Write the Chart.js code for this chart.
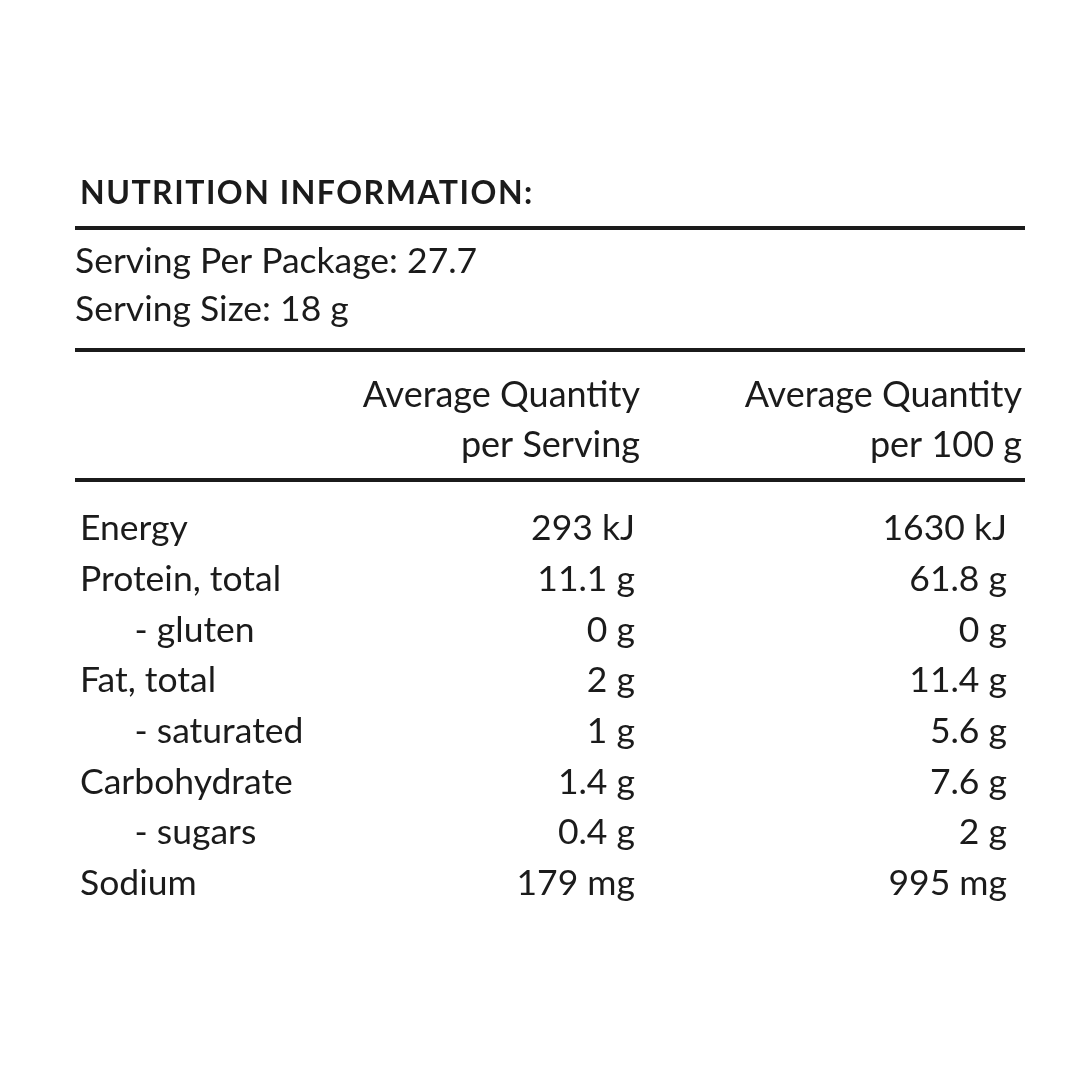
<!DOCTYPE html>
<html>
<head>
<meta charset="utf-8">
<script src="https://cdn.jsdelivr.net/npm/chart.js@4.4.1/dist/chart.umd.min.js"></script>
<style>
  html, body { margin: 0; padding: 0; background: #ffffff; }
  #wrap { width: 1080px; height: 1080px; position: relative; }
</style>
</head>
<body>
<div id="wrap"><canvas id="c" width="1080" height="1080"></canvas></div>
<script>
// ---- data ----
const titleText = 'NUTRITION INFORMATION:';
const servingLines = ['Serving Per Package: 27.7', 'Serving Size: 18 g'];
const columnHeaders = [['Average Quantity', 'per Serving'], ['Average Quantity', 'per 100 g']];
const nutrients = ['Energy', 'Protein, total', '- gluten', 'Fat, total', '- saturated', 'Carbohydrate', '- sugars', 'Sodium'];
const subRow = [false, false, true, false, true, false, true, false];
const units = ['kJ', 'g', 'g', 'g', 'g', 'g', 'g', 'mg'];
const perServing = [293, 11.1, 0, 2, 1, 1.4, 0.4, 179];
const per100g = [1630, 61.8, 0, 11.4, 5.6, 7.6, 2, 995];

const FONT = 'Lato, "Open Sans", sans-serif';
const INK = '#1b1b1b';
const ROW_FONT = 35.5;

function fmt(v, u) { return String(v) + ' ' + u; }

const tablePlugin = {
  id: 'nutritionTable',
  beforeDraw(chart) {
    const ctx = chart.ctx;
    ctx.save();
    ctx.fillStyle = '#ffffff';
    ctx.fillRect(0, 0, chart.width, chart.height);
    ctx.fillStyle = INK;
    ctx.textBaseline = 'alphabetic';
    // title
    ctx.font = 'bold 32px ' + FONT;
    ctx.textAlign = 'left';
    if ('letterSpacing' in ctx) ctx.letterSpacing = '1.5px';
    ctx.fillText(titleText, 80, 204);
    if ('letterSpacing' in ctx) ctx.letterSpacing = '0px';
    // serving lines
    ctx.font = '35.5px ' + FONT;
    ctx.fillText(servingLines[0], 75, 273);
    ctx.fillText(servingLines[1], 75, 321);
    // column headers
    const xs = chart.scales.x;
    ctx.font = '36px ' + FONT;
    ctx.textAlign = 'right';
    const hdrX = [xs.getPixelForValue(1) + 5, xs.getPixelForValue(2) + 15];
    columnHeaders.forEach((lines, i) => {
      ctx.fillText(lines[0], hdrX[i], 407);
      ctx.fillText(lines[1], hdrX[i], 457);
    });
    // rules
    ctx.strokeStyle = INK;
    ctx.lineWidth = 3.8;
    [228, 350, 480].forEach(y => {
      ctx.beginPath();
      ctx.moveTo(75, y);
      ctx.lineTo(1025, y);
      ctx.stroke();
    });
    ctx.restore();
  },
  afterDatasetsDraw(chart) {
    const ctx = chart.ctx;
    ctx.save();
    ctx.fillStyle = INK;
    ctx.font = ROW_FONT + 'px ' + FONT;
    ctx.textAlign = 'right';
    ctx.textBaseline = 'middle';
    chart.data.datasets.forEach((ds, di) => {
      const meta = chart.getDatasetMeta(di);
      meta.data.forEach((pt, i) => {
        ctx.fillText(ds.data[i].label, pt.x, pt.y);
      });
    });
    ctx.restore();
  }
};

new Chart(document.getElementById('c'), {
  type: 'scatter',
  data: {
    datasets: [
      {
        label: 'Average Quantity per Serving',
        data: nutrients.map((n, i) => ({ x: 1, y: n, label: fmt(perServing[i], units[i]) })),
        pointRadius: 0
      },
      {
        label: 'Average Quantity per 100 g',
        data: nutrients.map((n, i) => ({ x: 2, y: n, label: fmt(per100g[i], units[i]) })),
        pointRadius: 0
      }
    ]
  },
  options: {
    responsive: false,
    animation: false,
    events: [],
    layout: { padding: { top: 503.5, bottom: 171, left: 80, right: 73 } },
    plugins: { legend: { display: false }, tooltip: { enabled: false }, title: { display: false } },
    scales: {
      x: { type: 'linear', min: 0.5, max: 2, display: false },
      y: {
        type: 'category',
        labels: nutrients,
        offset: true,
        grid: { display: false },
        border: { display: false },
        afterFit(scale) { scale.width = 369; },
        ticks: {
          crossAlign: 'far',
          color: INK,
          font: { family: FONT, size: ROW_FONT },
          autoSkip: false,
          callback(value, index) {
            return (subRow[index] ? '      ' : '') + nutrients[index];
          }
        }
      }
    }
  },
  plugins: [tablePlugin]
});
</script>
</body>
</html>
